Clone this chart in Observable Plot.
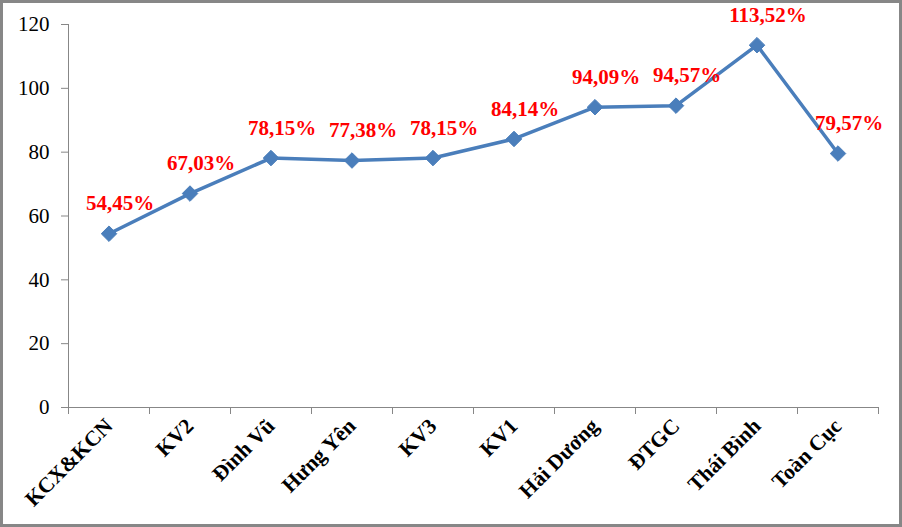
<!DOCTYPE html>
<html>
<head>
<meta charset="utf-8">
<script src="https://cdn.jsdelivr.net/npm/d3@7"></script>
<script src="https://cdn.jsdelivr.net/npm/@observablehq/plot@0.6"></script>
<style>
  html, body { margin: 0; padding: 0; background: #fff; }
  #chart svg { outline: 3px solid #878787; outline-offset: -3px; display: block; }
</style>
</head>
<body>
<div id="chart"></div>
<script>
const categories = ["KCX&KCN", "KV2", "Đình Vũ", "Hưng Yên", "KV3", "KV1", "Hải Dương", "ĐTGC", "Thái Bình", "Toàn Cục"];
const values = [54.45, 67.03, 78.15, 77.38, 78.15, 84.14, 94.09, 94.57, 113.52, 79.57];
const yTicks = [0, 20, 40, 60, 80, 100, 120];

const data = categories.map((c, i) => ({
  cat: c,
  idx: i + 0.5,
  value: values[i],
  label: values[i].toFixed(2).replace(".", ",") + "%"
}));

const lineColor = "#4a7ebb";
const axisColor = "#878787";

const chart = Plot.plot({
  width: 902,
  height: 527,
  marginLeft: 68,
  marginRight: 24,
  marginTop: 24,
  marginBottom: 120,
  style: { fontFamily: "'Liberation Serif', 'Times New Roman', serif", background: "#fff", color: "black" },
  x: { domain: [0, categories.length], axis: null },
  y: { domain: [0, 120], axis: null },
  marks: [
    Plot.frame({ anchor: "left", stroke: axisColor }),
    Plot.frame({ anchor: "bottom", stroke: axisColor }),
    Plot.axisY({ ticks: yTicks, tickSize: 7, tickPadding: 12, fontSize: 21, stroke: axisColor, fill: "black", tickFormat: d => d, label: null }),
    Plot.axisX({ ticks: d3.range(categories.length + 1), tickSize: 7, tickFormat: () => "", stroke: axisColor, label: null }),
    Plot.axisX({
      ticks: data.map(d => d.idx),
      tickSize: 0,
      tickPadding: 15,
      tickRotate: -45,
      tickFormat: v => categories[Math.round(v - 0.5)],
      fontSize: 21.5,
      fontWeight: "bold",
      fill: "black",
      label: null
    }),
    Plot.line(data, { x: "idx", y: "value", stroke: lineColor, strokeWidth: 3.5 }),
    Plot.dot(data, { x: "idx", y: "value", symbol: "diamond2", r: 7, fill: lineColor, stroke: lineColor, strokeWidth: 1 }),
    Plot.text(data, { x: "idx", y: "value", text: "label", dx: 11, dy: -30, fill: "#ff0000", fontSize: 21, fontWeight: "bold" })
  ]
});

document.getElementById("chart").appendChild(chart);
</script>
</body>
</html>
